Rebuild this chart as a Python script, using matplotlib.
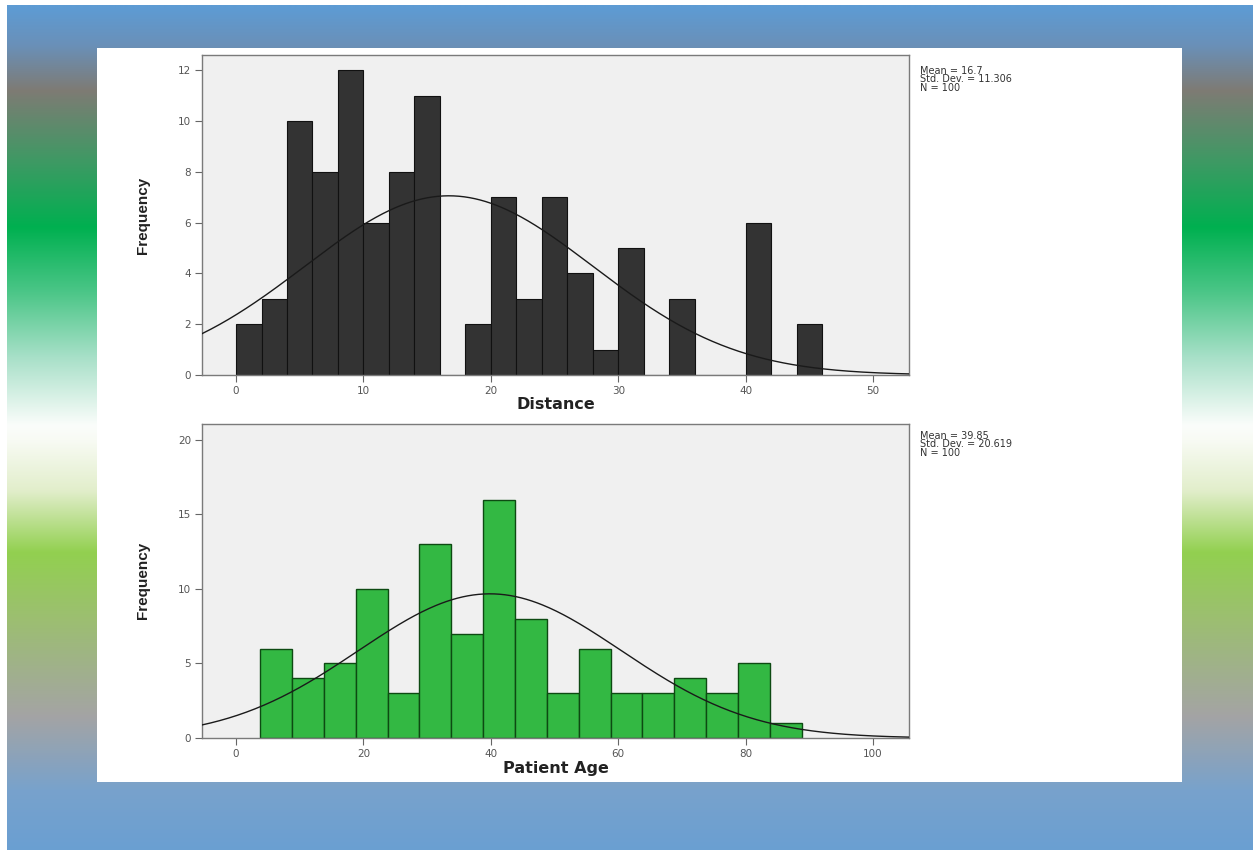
import numpy as np
import matplotlib
matplotlib.use("Agg")
import matplotlib.pyplot as plt
from matplotlib.patches import Rectangle

# ---------------- data ----------------
dist_edges_left = [0, 2, 4, 6, 8, 10, 12, 14, 16, 18, 20, 22, 24, 26, 28, 30, 32, 34, 36, 38, 40, 42, 44]
dist_counts = [2, 3, 10, 8, 12, 6, 8, 11, 0, 2, 7, 3, 7, 4, 1, 5, 0, 3, 0, 0, 6, 0, 2]
dist_bin_width = 2
dist_mean, dist_sd, dist_n = 16.7, 11.308, 100

age_edges_left = [3.8, 8.8, 13.8, 18.8, 23.8, 28.8, 33.8, 38.8, 43.8, 48.8, 53.8, 58.8, 63.8, 68.8, 73.8, 78.8, 83.8]
age_counts = [6, 4, 5, 10, 3, 13, 7, 16, 8, 3, 6, 3, 3, 4, 3, 5, 1]
age_bin_width = 5
age_mean, age_sd, age_n = 39.85, 20.619, 100

dist_xticks = [0, 10, 20, 30, 40, 50]
dist_yticks = [0, 2, 4, 6, 8, 10, 12]
age_xticks = [0, 20, 40, 60, 80, 100]
age_yticks = [0, 5, 10, 15, 20]

W, H = 1253, 850
fig = plt.figure(figsize=(W / 100, H / 100), dpi=100)

# ---------------- background gradient ----------------
stops_y = [0, 8, 45, 90, 160, 227, 292, 357, 425, 440, 490, 552, 617, 715, 790, 850]
stops_c = ["#5e9bd3", "#5e9bd3", "#6a90b8", "#7e7b74", "#3f9964", "#00b050", "#4cc688",
           "#a8e0c8", "#fbfdfb", "#f8fbf4", "#e2eecb", "#92d050", "#9cbf70", "#a4a4a4",
           "#78a2cc", "#6a9fd2"]
rgb = np.array([matplotlib.colors.to_rgb(c) for c in stops_c])
rows = np.arange(H)
grad = np.stack([np.interp(rows, stops_y, rgb[:, k]) for k in range(3)], axis=1)
img = np.repeat(grad[:, None, :], 8, axis=1)
bg = fig.add_axes([0, 0, 1, 1], zorder=-10)
bg.imshow(img, aspect="auto", extent=[0, W, H, 0], interpolation="bilinear")
bg.set_xlim(0, W)
bg.set_ylim(H, 0)
bg.axis("off")
# white borders and panel
bg.add_patch(Rectangle((0, 0), W, 5, color="white", lw=0))
bg.add_patch(Rectangle((0, 0), 7, H, color="white", lw=0))
bg.add_patch(Rectangle((97, 48), 1182 - 97, 782 - 48, color="white", lw=0))


def fig_rect(x0, y0, x1, y1):
    return [x0 / W, 1 - y1 / H, (x1 - x0) / W, (y1 - y0) / H]


def style_axes(ax):
    ax.set_facecolor("#f0f0f0")
    for s in ax.spines.values():
        s.set_color("#7a7a7a")
        s.set_linewidth(1.0)
    ax.tick_params(direction="out", length=5, width=0.8, color="#666666",
                   labelsize=7.5, labelcolor="#555555", pad=3)


def normal_curve(ax, mean, sd, n, bw, xlim):
    xs = np.linspace(xlim[0], xlim[1], 400)
    ys = n * bw / (sd * np.sqrt(2 * np.pi)) * np.exp(-0.5 * ((xs - mean) / sd) ** 2)
    ax.plot(xs, ys, color="#1a1a1a", lw=1.0, zorder=3)


ylab_family = ["Liberation Sans Narrow", "Liberation Sans", "DejaVu Sans"]

# ---------------- top histogram ----------------
ax1 = fig.add_axes(fig_rect(202, 55, 909, 375))
style_axes(ax1)
ax1.bar(dist_edges_left, dist_counts, width=dist_bin_width, align="edge",
        color="#333333", edgecolor="#111111", linewidth=0.8, zorder=2)
xl1 = (-2.67, 52.81)
ax1.set_xlim(*xl1)
ax1.set_ylim(0, 12.6)
normal_curve(ax1, dist_mean, dist_sd, dist_n, dist_bin_width, xl1)
ax1.set_xticks(dist_xticks)
ax1.set_yticks(dist_yticks)
ax1.set_xlabel("Distance", fontsize=11.5, fontweight="bold", family="DejaVu Sans", color="#222222")
ax1.xaxis.set_label_coords(0.5, -0.068)
ax1.set_ylabel("Frequency", fontsize=11, fontweight="bold", family=ylab_family, color="#222222")
ax1.yaxis.set_label_coords(-0.0735, 0.5)

fig.text(920 / W, 1 - 66 / H, "Mean = %s\nStd. Dev. = %s\nN = %d" % ("16.7", "11.306", dist_n),
         fontsize=7, family="DejaVu Sans", color="#333333", va="top", ha="left", linespacing=0.8)

# ---------------- bottom histogram ----------------
ax2 = fig.add_axes(fig_rect(202, 424, 909, 738))
style_axes(ax2)
ax2.bar(age_edges_left, age_counts, width=age_bin_width, align="edge",
        color="#33b843", edgecolor="#0d4a12", linewidth=1.0, zorder=2)
xl2 = (-5.34, 105.65)
ax2.set_xlim(*xl2)
ax2.set_ylim(0, 21.07)
normal_curve(ax2, age_mean, age_sd, age_n, age_bin_width, xl2)
ax2.set_xticks(age_xticks)
ax2.set_yticks(age_yticks)
ax2.set_xlabel("Patient Age", fontsize=11.5, fontweight="bold", family="DejaVu Sans", color="#222222")
ax2.xaxis.set_label_coords(0.5, -0.072)
ax2.set_ylabel("Frequency", fontsize=11, fontweight="bold", family=ylab_family, color="#222222")
ax2.yaxis.set_label_coords(-0.0735, 0.503)

fig.text(920 / W, 1 - 431 / H, "Mean = %s\nStd. Dev. = %s\nN = %d" % ("39.85", "20.619", age_n),
         fontsize=7, family="DejaVu Sans", color="#333333", va="top", ha="left", linespacing=0.8)

fig.savefig("out.png", dpi=100)
